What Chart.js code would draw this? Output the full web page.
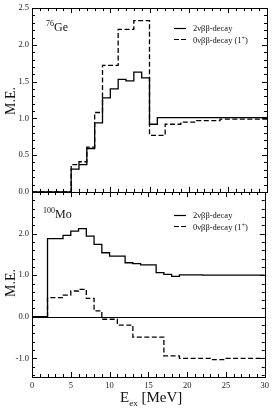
<!DOCTYPE html>
<html>
<head>
<meta charset="utf-8">
<script src="https://cdn.jsdelivr.net/npm/chart.js@4"></script>
<style>
  body { margin: 0; background: #fff; }
  #wrap { position: relative; width: 273px; height: 408px; font-family: "Liberation Serif", "DejaVu Serif", serif; color: #111; }
  canvas { position: absolute; left: 0; }
  .lbl { position: absolute; white-space: nowrap; line-height: 1; }
  .me { font-size: 14px; transform: rotate(-90deg); transform-origin: center; }
  .nuc { font-size: 12px; }
  .nuc sup { font-size: 8px; vertical-align: 5px; }
  .leg { font-size: 8.5px; }
  .leg svg { position: absolute; left: -19px; top: 3px; }
  .leg sup { font-size: 6px; vertical-align: 3px; }
  .xt { font-size: 15px; }
  .xt sub { font-size: 9px; vertical-align: -4px; }
</style>
</head>
<body>
<div id="wrap">
  <canvas id="geChart" width="273" height="200" style="top:0"></canvas>
  <canvas id="moChart" width="273" height="224" style="top:184px"></canvas>

  <div class="lbl me" style="left:-3px; top:94px;">M.E.</div>
  <div class="lbl me" style="left:-3px; top:276px;">M.E.</div>

  <div class="lbl nuc" style="left:46px; top:20px;"><sup>76</sup>Ge</div>
  <div class="lbl nuc" style="left:43px; top:207px;"><sup>100</sup>Mo</div>

  <div class="lbl leg" style="left:193px; top:24px;">
    <svg width="14" height="3"><line x1="0" y1="1.5" x2="12" y2="1.5" stroke="#000" stroke-width="1.2"/></svg>2νββ-decay</div>
  <div class="lbl leg" style="left:193px; top:35px;">
    <svg width="14" height="3"><line x1="0" y1="1.5" x2="12" y2="1.5" stroke="#000" stroke-width="1.2" stroke-dasharray="5,2"/></svg>0νββ-decay (1<sup>+</sup>)</div>

  <div class="lbl leg" style="left:193px; top:211px;">
    <svg width="14" height="3"><line x1="0" y1="1.5" x2="12" y2="1.5" stroke="#000" stroke-width="1.2"/></svg>2νββ-decay</div>
  <div class="lbl leg" style="left:193px; top:222px;">
    <svg width="14" height="3"><line x1="0" y1="1.5" x2="12" y2="1.5" stroke="#000" stroke-width="1.2" stroke-dasharray="5,2"/></svg>0νββ-decay (1<sup>+</sup>)</div>

  <div class="lbl xt" style="left:120px; top:390px;">E<sub>ex</sub> [MeV]</div>
</div>

<script>
// ticks
const xTicks = [0, 5, 10, 15, 20, 25, 30];
const geYTicks = [0, 0.5, 1, 1.5, 2, 2.5];
const moYTicks = [-1, 0, 1, 2];

// 76Ge: bin edges (MeV) and M.E. per bin
const geTwoNuEdges = [0, 5, 6, 7, 8, 9, 10, 11, 12, 13, 14, 15, 16, 30];
const geTwoNuValues = [0, 0.31, 0.37, 0.59, 0.94, 1.28, 1.40, 1.53, 1.51, 1.63, 1.55, 0.92, 1.01];
const geZeroNuEdges = [0, 5, 6, 7, 8, 9, 11, 13, 15, 17, 19, 21, 24, 30];
const geZeroNuValues = [0, 0.37, 0.41, 0.61, 1.08, 1.72, 2.21, 2.33, 0.77, 0.92, 0.95, 0.97, 0.99];

// 100Mo
const moTwoNuEdges = [0, 2, 4, 5, 6, 7, 8, 9, 10, 12, 13, 14, 16, 17, 18, 19, 22, 30];
const moTwoNuValues = [0, 1.88, 1.96, 2.06, 2.12, 1.94, 1.74, 1.54, 1.46, 1.30, 1.28, 1.25, 1.06, 1.02, 0.97, 1.01, 1.0];
const moZeroNuEdges = [0, 2, 4, 5, 6, 7, 8, 9, 11, 13, 17, 19, 23, 25, 30];
const moZeroNuValues = [0, 0.46, 0.52, 0.62, 0.66, 0.44, 0.14, -0.06, -0.20, -0.49, -0.94, -1.0, -1.03, -1.0];

const SERIF = "'Liberation Serif', serif";

function steps(edges, values) {
  const pts = values.map((v, i) => ({ x: edges[i], y: v }));
  pts.push({ x: edges[edges.length - 1], y: values[values.length - 1] });
  return pts;
}

// frame + inward ticks on all four sides
const framePlugin = {
  id: "frame",
  afterDatasetsDraw(chart, args, opts) {
    const { ctx, chartArea: a } = chart;
    const xs = chart.scales.x, ys = chart.scales.y;
    ctx.save();
    ctx.strokeStyle = "#000";
    ctx.lineWidth = 1;
    ctx.beginPath();
    for (let v = xs.min; v <= xs.max + 1e-9; v += 1) {
      const px = Math.round(xs.getPixelForValue(v)) + 0.5;
      const len = v % 5 === 0 ? 5 : 3;
      ctx.moveTo(px, a.top); ctx.lineTo(px, a.top + len);
      ctx.moveTo(px, a.bottom); ctx.lineTo(px, a.bottom - len);
    }
    const start = Math.ceil(ys.min / opts.minor - 1e-9) * opts.minor;
    for (let v = start; v <= ys.max + 1e-9; v += opts.minor) {
      const py = Math.round(ys.getPixelForValue(v)) + 0.5;
      const major = Math.abs(v / opts.major - Math.round(v / opts.major)) < 1e-6;
      const len = major ? 5 : 3;
      ctx.moveTo(a.left, py); ctx.lineTo(a.left + len, py);
      ctx.moveTo(a.right, py); ctx.lineTo(a.right - len, py);
    }
    if (opts.zeroLine) {
      const py = Math.round(ys.getPixelForValue(0)) + 0.5;
      ctx.moveTo(a.left, py); ctx.lineTo(a.right, py);
    }
    ctx.stroke();
    ctx.strokeRect(Math.round(a.left) + 0.5, Math.round(a.top) + 0.5,
      Math.round(a.right - a.left), Math.round(a.bottom - a.top));
    ctx.restore();
  }
};

function makeChart(id, sets, yMin, yMax, yTicks, frame, showX, padding) {
  const canvas = document.getElementById(id);
  return new Chart(canvas, {
    type: "line",
    data: {
      datasets: sets.map(s => ({
        data: steps(s.edges, s.values),
        stepped: "before",
        borderColor: "#000",
        borderWidth: 1.3,
        borderDash: s.dash,
        pointRadius: 0,
        fill: false
      }))
    },
    options: {
      responsive: false,
      devicePixelRatio: 1,
      animation: false,
      layout: { padding },
      plugins: { legend: { display: false }, tooltip: { enabled: false }, frame },
      scales: {
        x: {
          type: "linear", min: 0, max: 30,
          display: showX,
          grid: { display: false, drawTicks: false },
          border: { display: false },
          afterBuildTicks: s => { s.ticks = xTicks.map(v => ({ value: v })); },
          afterFit: s => { s.height = showX ? 31 : 0; },
          ticks: { padding: 4, color: "#222", font: { family: SERIF, size: 8.5 }, callback: v => String(v), maxRotation: 0 }
        },
        y: {
          min: yMin, max: yMax,
          grid: { display: false, drawTicks: false },
          border: { display: false },
          afterBuildTicks: s => { s.ticks = yTicks.map(v => ({ value: v })); },
          afterFit: s => { s.width = 32; },
          ticks: { padding: 3, color: "#222", font: { family: SERIF, size: 8.5 }, callback: v => Number(v).toFixed(1) }
        }
      }
    },
    plugins: [framePlugin]
  });
}

makeChart("geChart", [
  { edges: geTwoNuEdges, values: geTwoNuValues, dash: [] },
  { edges: geZeroNuEdges, values: geZeroNuValues, dash: [5, 2.5] }
], 0, 2.5, geYTicks, { minor: 0.1, major: 0.5, zeroLine: false }, false,
  { left: 0, right: 6, top: 5, bottom: 8 });

makeChart("moChart", [
  { edges: moTwoNuEdges, values: moTwoNuValues, dash: [] },
  { edges: moZeroNuEdges, values: moZeroNuValues, dash: [5, 2.5] }
], -1.45, 3.0, moYTicks, { minor: 0.2, major: 1, zeroLine: true }, true,
  { left: 0, right: 6, top: 8, bottom: 0 });
</script>
</body>
</html>
